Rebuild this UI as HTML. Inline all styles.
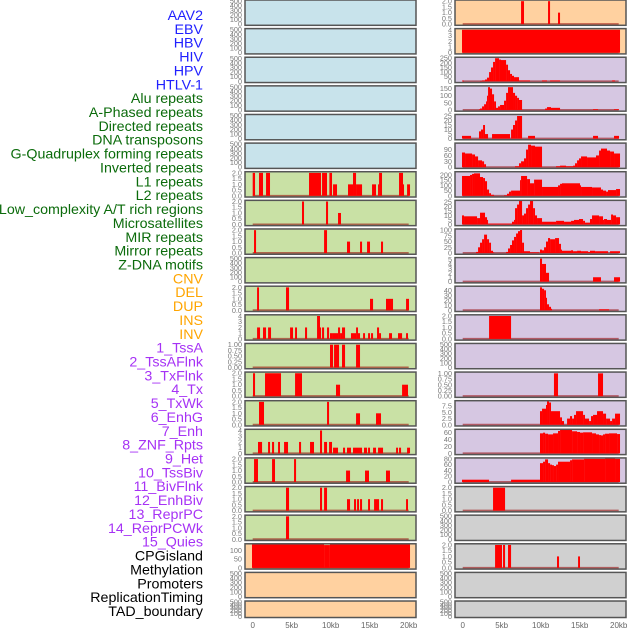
<!DOCTYPE html>
<html><head><meta charset="utf-8">
<style>
html,body{margin:0;padding:0;background:#fff;}
#wrap{position:relative;width:630px;height:630px;overflow:hidden;}
svg text{font-family:"Liberation Sans",sans-serif;}
</style></head>
<body>
<div id="wrap">
<svg id="chart" width="630" height="630" viewBox="0 0 630 630" xmlns="http://www.w3.org/2000/svg"></svg>
</div>
<script>
// ---- track labels ----
const labelNames = ["AAV2","EBV","HBV","HIV","HPV","HTLV-1","Alu repeats","A-Phased repeats","Directed repeats","DNA transposons","G-Quadruplex forming repeats","Inverted repeats","L1 repeats","L2 repeats","Low_complexity A/T rich regions","Microsatellites","MIR repeats","Mirror repeats","Z-DNA motifs","CNV","DEL","DUP","INS","INV","1_TssA","2_TssAFlnk","3_TxFlnk","4_Tx","5_TxWk","6_EnhG","7_Enh","8_ZNF_Rpts","9_Het","10_TssBiv","11_BivFlnk","12_EnhBiv","13_ReprPC","14_ReprPCWk","15_Quies","CPGisland","Methylation","Promoters","ReplicationTiming","TAD_boundary"];
const labelGroups = ["virus","virus","virus","virus","virus","virus","repeat","repeat","repeat","repeat","repeat","repeat","repeat","repeat","repeat","repeat","repeat","repeat","repeat","sv","sv","sv","sv","sv","chrom","chrom","chrom","chrom","chrom","chrom","chrom","chrom","chrom","chrom","chrom","chrom","chrom","chrom","chrom","other","other","other","other","other"];
const xTickValues = [0,5,10,15,20];
const xTickLabels = ["0","5kb","10kb","15kb","20kb"];

// ---- tick label sets ----
const ticksEmpty = ["0","100","200","300","400","500"];
const ticks2 = ["0.0","0.5","1.0","1.5","2.0"];
const ticks4 = ["0","1","2","3","4"];
const ticks1 = ["0.00","0.25","0.50","0.75","1.00"];

// ---- series data: [startKb, endKb, value] ----
const empty = [];
const aluRepeats = [[0,0.3,2],[0.81,1.32,2],[1.71,2.22,2],[7.22,8.76,2],[8.89,9.53,2],[9.83,10.17,2],[10.3,10.81,1],[12.22,12.86,1],[12.86,13.25,2],[13.25,14.02,1],[15.3,15.81,1],[16.07,16.2,1],[16.2,16.58,2],[18.76,19.27,2],[19.27,19.4,1],[19.79,20.17,1]];
const aPhased = [[6.32,6.58,2],[9.4,9.66,2],[10.94,11.32,1]];
const directed = [[0.17,0.43,2],[9.15,9.53,2],[12.09,12.48,1],[13.76,14.02,1],[14.66,15.04,1],[16.45,16.71,1]];
const gQuad = [[0.56,0.81,2],[4.27,4.66,2],[15.04,15.43,1],[17.09,17.99,1],[19.66,20.04,1]];
const inverted = [[0.56,0.94,2],[1.32,1.71,2],[1.97,2.35,2],[4.79,5.17,2],[5.43,5.68,2],[6.71,6.97,2],[8.25,8.63,4],[8.63,8.76,2],[8.89,9.15,2],[9.53,9.79,2],[9.91,10.17,1],[10.17,10.94,1],[10.94,11.2,2],[11.2,11.45,1],[11.45,11.84,2],[12.6,12.86,1],[12.86,13.25,1],[13.25,13.5,2],[13.5,13.76,1],[14.15,14.4,1],[14.79,15.04,1],[15.17,15.43,1],[15.94,16.2,2],[16.2,16.45,1],[17.48,17.86,1],[18.63,19.15,1],[19.66,19.91,1]];
const l1Repeats = [[9.91,10.3,1],[10.43,11.07,1],[11.45,11.84,1],[13.25,13.76,1]];
const l2Repeats = [[0.04,0.3,2],[1.58,3.63,2],[5.43,6.32,2],[10.68,11.2,1],[19.15,19.91,1]];
const lowComplexity = [[0.81,1.45,2],[9.53,9.79,2],[13.25,13.76,1],[15.81,16.45,1]];
const microsat = [[0.68,1.2,2],[1.97,2.22,2],[2.48,2.74,2],[3.25,3.5,2],[4.02,4.53,2],[5.94,6.2,2],[7.35,7.86,2],[8.63,8.89,4],[9.15,9.53,2],[9.79,10.17,2],[10.3,10.94,1],[11.58,11.84,1],[12.09,12.6,1],[12.86,14.02,1],[14.27,14.66,1],[14.79,15.04,1],[15.43,15.81,1],[16.07,16.71,1],[18.38,18.63,1],[18.76,19.02,1],[19.79,20.17,1]];
const mirRepeats = [[0.17,0.68,2],[2.48,2.86,2],[5.3,5.56,2],[11.97,12.48,1],[14.4,14.91,1],[17.09,17.6,1]];
const mirrorRepeats = [[4.27,4.66,2],[8.63,8.89,2],[9.15,9.53,2],[12.09,12.48,1],[12.99,13.25,1],[13.38,13.63,1],[13.76,14.02,1],[14.79,15.04,1],[15.56,16.2,1],[16.45,16.71,1],[19.66,19.91,1]];
const zDna = [[4.27,4.66,2]];
const cnv = [[-0.09,9.15,140],[9.15,9.9,131],[9.9,20.17,140]];
const ins = [[7.48,7.86,2],[10.94,11.2,2],[12.22,12.48,1]];
const inv = [[-0.09,20.17,4]];
const tssA = [[-0.09,0.17,8],[2.22,2.48,5],[2.48,2.86,10],[2.86,3.12,20],[3.12,3.38,40],[3.38,3.63,100],[3.63,3.89,150],[3.89,4.15,210],[4.15,4.66,250],[4.66,4.91,235],[4.91,5.56,230],[5.56,5.81,180],[5.81,6.07,120],[6.07,6.32,80],[6.32,6.58,60],[6.58,7.22,45],[7.22,8.63,10],[10.17,10.81,10],[11.2,12.48,10],[19.15,19.53,10]];
const tssAFlnk = [[2.12,2.22,5],[2.22,2.48,10],[2.48,2.74,25],[2.74,2.99,40],[2.99,3.12,60],[3.12,3.25,100],[3.25,3.5,160],[3.5,3.76,150],[3.76,4.02,110],[4.02,4.27,60],[4.27,4.53,15],[4.53,4.79,25],[4.79,5.3,35],[5.3,5.56,65],[5.56,5.81,120],[5.81,6.45,160],[6.45,6.71,120],[6.71,6.97,100],[6.97,7.22,85],[7.22,7.61,70],[10.56,10.81,10],[10.81,11.32,20],[11.32,12.48,15],[16.71,17.35,5],[19.4,20.04,5]];
const txFlnk = [[-0.09,1.07,3],[2.09,2.35,8],[2.35,2.61,10],[2.61,2.86,15],[2.86,3.25,5],[3.76,6.07,5],[6.2,6.45,10],[6.45,6.71,15],[6.71,6.97,20],[6.97,7.61,25],[8.38,9.27,3],[16.71,17.35,3],[19.4,20.04,3]];
const tx = [[-0.09,0.3,75],[0.3,1.2,70],[1.2,1.58,65],[1.58,1.97,55],[1.97,2.48,35],[2.48,2.74,30],[2.74,2.99,15],[6.71,7.22,5],[7.22,7.48,20],[7.48,7.86,30],[7.86,8.12,45],[8.12,8.38,90],[8.38,8.76,115],[8.76,9.27,110],[9.27,10.17,105],[11.97,12.48,5],[12.48,13.25,8],[13.25,14.15,5],[14.15,14.4,8],[14.4,14.66,20],[14.66,14.91,35],[14.91,15.17,45],[15.17,15.94,55],[15.94,16.32,50],[16.32,17.09,50],[17.09,17.48,60],[17.48,17.73,85],[17.73,18.5,95],[18.5,18.89,85],[18.89,19.4,80],[19.4,20.17,70]];
const txWk = [[-0.09,0.94,190],[0.94,1.2,200],[1.2,1.45,210],[1.45,2.22,215],[2.22,2.61,180],[2.61,2.86,170],[2.86,3.12,140],[3.12,3.38,60],[3.38,3.63,25],[3.63,4.02,10],[5.3,5.68,5],[5.68,5.94,20],[5.94,6.2,40],[6.2,7.35,50],[7.35,7.48,150],[7.48,8.25,190],[8.25,8.63,160],[8.63,9.15,120],[9.15,10.17,155],[10.17,12.22,85],[12.22,12.48,100],[12.48,12.73,115],[12.73,15.04,120],[15.04,15.17,100],[15.17,16.58,85],[16.58,17.73,80],[17.73,17.99,60],[17.99,18.38,50],[18.38,18.63,40],[18.63,19.66,55],[19.66,20.17,65]];
const enhG = [[-0.09,0.17,10],[0.17,1.84,9],[1.84,2.22,7],[2.22,2.86,13],[2.86,3.12,8],[3.12,3.25,5],[3.25,6.32,1],[6.32,6.58,3],[6.58,6.71,5],[6.71,6.97,18],[6.97,7.22,22],[7.22,7.61,27],[7.61,7.86,10],[7.86,8.12,12],[8.12,8.38,18],[8.38,8.63,22],[8.63,9.02,27],[9.02,9.27,18],[9.27,9.53,10],[9.53,10.17,7],[10.17,11.97,3],[11.97,12.99,4],[12.99,13.89,3],[13.89,14.27,4],[14.27,14.91,5],[14.91,15.43,6],[15.43,15.68,4],[15.68,16.32,2],[16.32,16.58,6],[16.58,17.48,10],[17.48,17.99,9],[17.99,18.12,5],[18.12,18.5,6],[18.5,19.02,5],[19.02,19.27,11],[19.27,19.66,10],[19.66,20.17,8]];
const enh = [[1.71,1.97,5],[1.97,2.22,25],[2.22,2.48,45],[2.48,2.74,60],[2.74,3.12,80],[3.12,3.38,60],[3.38,3.63,45],[3.63,3.89,10],[3.89,4.02,3],[5.56,5.81,5],[5.81,6.07,20],[6.07,6.32,35],[6.32,6.58,55],[6.58,6.84,70],[6.84,7.09,85],[7.09,7.35,95],[7.35,7.61,100],[7.61,7.86,45],[7.86,8.63,8],[8.63,9.79,3],[9.91,10.17,15],[10.17,10.43,12],[10.43,10.68,25],[10.68,10.94,50],[10.94,11.2,65],[11.2,11.84,60],[11.84,12.35,65],[12.35,12.6,40],[12.6,12.73,15],[12.73,13.89,10],[13.89,14.15,12],[14.15,14.66,8],[14.66,15.17,10],[15.17,16.07,8],[16.07,16.32,5],[16.32,16.97,10],[16.97,18.63,8],[18.89,20.17,8]];
const znf = [[9.91,10.17,5.2],[10.17,10.68,4],[10.68,11.07,2],[16.71,17.73,1],[19.4,20.17,1]];
const het = [[9.91,10.17,46],[10.17,10.43,43],[10.43,10.68,40],[10.68,10.81,25],[10.81,11.07,12],[11.07,11.32,7],[11.32,11.45,3],[17.48,18.76,2]];
const tssBiv = [[3.38,6.2,2]];
const enhBiv = [[11.7,12.22,1],[17.35,17.99,1]];
const reprPC = [[9.91,10.17,5.5],[10.17,10.68,6.5],[10.68,10.81,8],[10.81,11.07,9.5],[11.07,11.32,9],[11.32,12.48,5.5],[12.48,12.73,3],[12.73,12.99,1.5],[13.38,13.76,2.5],[13.76,14.02,3.5],[14.02,14.27,2.5],[14.27,14.53,4],[14.53,15.43,5.5],[15.43,15.68,4],[15.68,16.2,2.5],[16.2,16.45,1.5],[16.45,16.71,3.5],[16.71,17.22,4],[17.22,17.99,5.5],[17.99,18.38,4.5],[18.38,18.89,2.5],[18.89,19.15,1.5],[19.15,19.53,2.5],[19.53,20.17,4.5]];
const reprPCWk = [[9.91,10.3,58],[10.3,10.56,60],[10.56,10.94,57],[10.94,11.58,55],[11.58,12.22,58],[12.22,12.48,65],[12.48,14.02,68],[14.02,14.66,64],[14.66,15.04,62],[15.04,15.43,60],[15.43,16.58,61],[16.58,17.09,58],[17.09,17.48,55],[17.48,17.73,53],[17.73,17.99,52],[17.99,18.25,55],[18.25,18.76,57],[18.76,19.79,58],[19.79,20.17,56]];
const quies = [[-0.09,3.38,8],[6.2,9.91,8],[9.91,10.3,65],[10.3,10.56,70],[10.56,10.94,78],[10.94,11.2,65],[11.2,11.45,60],[11.45,11.7,58],[11.7,11.97,55],[11.97,12.22,60],[12.22,13.76,70],[13.76,14.02,75],[14.02,15.56,78],[15.56,18.25,80],[18.25,19.53,82],[19.53,20.17,80]];
const cpgIsland = [[3.89,5.43,2]];
const promoters = [[4.15,5.04,2],[5.17,5.43,2],[5.81,6.2,2],[12.09,12.35,1],[14.79,15.04,1]];

// ---- panel layout (col, row, background, y-max, ticks, series) ----
const BG = {blue:"#c8e3eb", green:"#c9e1a5", orange:"#ffd1a0", purple:"#d6c7e2", grey:"#d0d0d0"};
const panels = [
 ["aav2",0,0,"blue",510,ticksEmpty,empty],["ebv",0,1,"blue",510,ticksEmpty,empty],["hbv",0,2,"blue",510,ticksEmpty,empty],
 ["hiv",0,3,"blue",510,ticksEmpty,empty],["hpv",0,4,"blue",510,ticksEmpty,empty],["htlv-1",0,5,"blue",510,ticksEmpty,empty],
 ["alu-repeats",0,6,"green",2.05,ticks2,aluRepeats],["a-phased-repeats",0,7,"green",2.05,ticks2,aPhased],
 ["directed-repeats",0,8,"green",2.05,ticks2,directed],["dna-transposons",0,9,"green",510,ticksEmpty,empty],
 ["g-quadruplex",0,10,"green",2.05,ticks2,gQuad],["inverted-repeats",0,11,"green",4.1,ticks4,inverted],
 ["l1-repeats",0,12,"green",1.03,ticks1,l1Repeats],["l2-repeats",0,13,"green",2.05,ticks2,l2Repeats],
 ["low-complexity",0,14,"green",2.05,ticks2,lowComplexity],["microsatellites",0,15,"green",4.1,ticks4,microsat],
 ["mir-repeats",0,16,"green",2.05,ticks2,mirRepeats],["mirror-repeats",0,17,"green",2.05,ticks2,mirrorRepeats],
 ["z-dna-motifs",0,18,"green",2.05,ticks2,zDna],["cnv",0,19,"orange",135,["0","50","100"],cnv],
 ["del",0,20,"orange",510,ticksEmpty,empty],["dup",0,21,"orange",510,ticksEmpty,empty],
 ["ins",1,0,"orange",2.05,ticks2,ins],["inv",1,1,"orange",4.1,ticks4,inv],
 ["1-tssa",1,2,"purple",254,["0","50","100","150","200","250"],tssA],
 ["2-tssaflnk",1,3,"purple",165,["0","50","100","150"],tssAFlnk],
 ["3-txflnk",1,4,"purple",26,["0","5","10","15","20","25"],txFlnk],
 ["4-tx",1,5,"purple",120,["0","30","60","90"],tx],
 ["5-txwk",1,6,"purple",225,["0","50","100","150","200"],txWk],
 ["6-enhg",1,7,"purple",26,["0","5","10","15","20","25"],enhG],
 ["7-enh",1,8,"purple",102,["0","25","50","75","100"],enh],
 ["8-znf-rpts",1,9,"purple",5.3,["0","1","2","3","4","5"],znf],
 ["9-het",1,10,"purple",47,["0","10","20","30","40"],het],
 ["10-tssbiv",1,11,"purple",2.05,ticks2,tssBiv],["11-bivflnk",1,12,"purple",510,ticksEmpty,empty],
 ["12-enhbiv",1,13,"purple",1.03,ticks1,enhBiv],
 ["13-reprpc",1,14,"purple",9.5,["0.0","2.5","5.0","7.5"],reprPC],
 ["14-reprpcwk",1,15,"purple",68,["0","20","40","60"],reprPCWk],
 ["15-quies",1,16,"purple",81,["0","20","40","60","80"],quies],
 ["cpgisland",1,17,"grey",2.05,ticks2,cpgIsland],["methylation",1,18,"grey",510,ticksEmpty,empty],
 ["promoters",1,19,"grey",2.05,ticks2,promoters],["replication-timing",1,20,"grey",510,ticksEmpty,empty],
 ["tad-boundary",1,21,"grey",510,ticksEmpty,empty]
];

const NS = "http://www.w3.org/2000/svg";
const svg = document.getElementById("chart");
function mk(tag, attrs, parent){ const e=document.createElementNS(NS,tag); for(const k in attrs) e.setAttribute(k,attrs[k]); (parent||svg).appendChild(e); return e; }

// labels
const labelColor = {virus:"#2020ff", repeat:"#0b6b0b", sv:"#ffa500", chrom:"#a632f5", other:"#000000"};
labelNames.forEach((n,i)=>{
  const t = mk("text",{x:203,y:20+i*13.86,"text-anchor":"end","font-size":"14.25",fill:labelColor[labelGroups[i]]});
  t.textContent = n;
  
  
});

const colX = [245, 455];
const PW = 171;
const ROWSTEP = 28.62;
function xScale(col, kb){ return colX[col] + 7.7 + kb*7.8; }

panels.forEach(p=>{
  const [name,col,row,bg,ymax,ticks,data] = p;
  const top = row*ROWSTEP;
  const h = row===21 ? 16.5 : 25.3;
  const x0 = colX[col];
  const g = mk("g",{});
  
  
  mk("rect",{x:x0,y:top,width:PW,height:h,fill:BG[bg]},g);
  const yScale = v => top + h - 1.2 - Math.min(v,ymax)/ymax*(h-1.8);
  if(data.length){
    const bl = mk("line",{x1:xScale(col,0),x2:xScale(col,20),y1:yScale(0),y2:yScale(0),stroke:"rgba(150,0,0,0.55)","stroke-width":2},g);
    
    
  }
  data.forEach(d=>{
    const xa=xScale(col,d[0]), xb=xScale(col,d[1]);
    const ya=yScale(d[2]), yb=yScale(0);
    const r = mk("rect",{x:xa,y:ya,width:Math.max(xb-xa,1),height:Math.max(yb-ya,0),fill:"#ff0000"},g);
    
    
  });
  mk("rect",{x:x0,y:top,width:PW,height:h,fill:"none",stroke:"#555","stroke-width":1.5},g);
  ticks.forEach(tl=>{
    const v = parseFloat(tl);
    const t = mk("text",{x:x0-3,y:yScale(v)+2.5,"text-anchor":"end","font-size":"7.3",fill:"#7a7a7a"},g);
    t.textContent = tl;
    
    
  });
});

// x axes
[0,1].forEach(col=>{
  xTickValues.forEach((v,i)=>{
    const t = mk("text",{x:xScale(col,v),y:628,"text-anchor":"middle","font-size":"8",fill:"#666"});
    t.textContent = xTickLabels[i];
    
    
  });
});
</script>
</body></html>
